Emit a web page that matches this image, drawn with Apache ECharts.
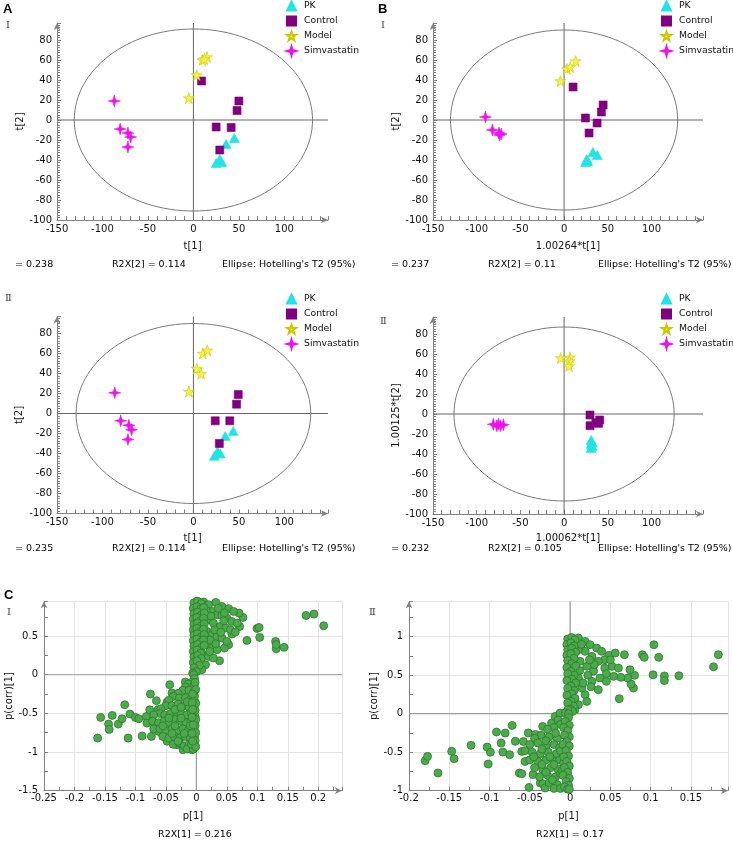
<!DOCTYPE html>
<html><head><meta charset="utf-8">
<script src="https://cdn.jsdelivr.net/npm/echarts@6/dist/echarts.min.js"></script>
<style>html,body{margin:0;padding:0;background:#fff}#c{width:733px;height:842px}</style>
</head><body><div id="c"></div>
<script>
// ---------------- DATA ----------------
const groups = ['PK', 'Control', 'Model', 'Simvastatin'];

// Panel A-I  (t[1], t[2])
const A1_PK = [[45,-18],[36,-24],[29,-39],[31,-42],[25,-43]];
const A1_Control = [[9,39],[50,19],[48,9.5],[25,-7],[41.5,-7.5],[29,-30]];
const A1_Model = [[-5,22],[3.6,45],[10,60],[15,63],[12,61]];
const A1_Simva = [[-87,19],[-80.5,-9],[-72,-13],[-69,-17],[-72,-27]];
const A1_ellipse = [131, 91];

// Panel B-I
const B1_PK = [[26,-39],[24.5,-42],[33,-32],[38,-35],[27,-41]];
const B1_Control = [[10.3,33],[44.7,15],[42.7,8],[24.4,2],[37.8,-3],[28.6,-13]];
const B1_Model = [[-4.2,39],[3.4,51],[7.2,53],[13.3,59]];
const B1_Simva = [[-90,3],[-82,-10],[-74.5,-13],[-72,-14],[-74,-15]];
const B1_ellipse = [130, 90];

// Panel A-II
const A2_PK = [[43.8,-17.4],[35,-22.4],[26.7,-37.7],[29.6,-40],[23,-42.3]];
const A2_Control = [[49.3,19],[47.5,9.3],[24,-7.3],[40,-7.3],[28.5,-30]];
const A2_Model = [[-5,22],[3.7,45],[8.4,39.7],[10.3,60],[15.3,63.3]];
const A2_Simva = [[-86.5,20.7],[-80,-7.3],[-71,-11.7],[-68,-16.3],[-72,-26]];
const A2_ellipse = [129, 90];

// Panel B-II
const B2_PK = [[31,-26],[32,-28],[31,-30],[32,-32],[31,-34]];
const B2_Control = [[29.7,-1],[29.7,-11.7],[40.8,-6],[39.5,-9.3],[36.4,-8.7]];
const B2_Model = [[-3.9,56],[6.8,56.7],[6.1,53],[5.7,48]];
const B2_Simva = [[-81,-10.3],[-77,-11.7],[-72.7,-11.7],[-69.5,-10.7],[-75,-10.3]];
const B2_ellipse = [126, 87];

// Panel C-I  (p[1], p(corr)[1])
const C1_points = [
  // upper-right outliers
  [0.180,0.767],[0.193,0.785],[0.209,0.634],[0.130,0.431],[0.131,0.336],[0.144,0.354],[0.131,0.39],
  [0.0995,0.599],[0.103,0.612],[0.104,0.483],[0.083,0.444],[0.071,0.625],[0.0765,0.741],[0.070,0.798],
  [0.0585,0.527],[0.053,0.388],[0.038,0.181],[0.046,0.345],[0.032,0.935],[0.042,0.884],[0.053,0.854],[0.061,0.819],
  // upper fan
  [0.001,0.95],[0.012,0.94],[0.020,0.906],[0.026,0.819],[0.034,0.776],[0.042,0.768],[0.050,0.733],[0.058,0.690],
  [0.067,0.668],[0.020,0.711],[0.028,0.668],[0.039,0.625],[0.048,0.604],[0.056,0.582],[0.064,0.552],[0.017,0.561],
  [0.026,0.517],[0.034,0.496],[0.042,0.474],[0.050,0.431],[0.017,0.388],[0.026,0.345],[0.034,0.323],[0.012,0.259],
  [0.020,0.237],[0.028,0.216],[0.007,0.151],[0.015,0.129],[0.009,0.065],[0.022,0.45],[0.030,0.58],[0.045,0.7],
  [0.016,0.83],[0.024,0.76],[0.036,0.86],[0.046,0.8],[0.040,0.55],[0.022,0.30],[0.032,0.40],
  // upper dense strip
  [-0.004,0.93],[0.002,0.95],[0.008,0.92],[-0.005,0.86],[0.001,0.88],[0.007,0.85],[0.012,0.87],[-0.004,0.79],
  [0.002,0.81],[0.008,0.77],[0.013,0.8],[-0.005,0.72],[0.001,0.74],[0.007,0.7],[0.012,0.73],[-0.004,0.65],
  [0.002,0.67],[0.008,0.63],[0.013,0.66],[-0.005,0.58],[0.001,0.6],[0.007,0.56],[0.012,0.59],[-0.004,0.51],
  [0.002,0.53],[0.008,0.49],[0.013,0.52],[-0.005,0.44],[0.001,0.46],[0.007,0.42],[0.012,0.45],[-0.004,0.37],
  [0.002,0.39],[0.008,0.35],[0.013,0.38],[-0.005,0.3],[0.001,0.32],[0.007,0.28],[-0.004,0.23],[0.002,0.25],
  [0.008,0.21],[-0.005,0.16],[0.001,0.18],[0.005,0.12],[-0.004,0.09],[0.0,0.04],[-0.006,0.02],
  // lower-left outliers
  [-0.162,-0.819],[-0.157,-0.552],[-0.144,-0.638],[-0.143,-0.707],[-0.138,-0.526],[-0.128,-0.638],[-0.122,-0.569],
  [-0.1175,-0.388],[-0.112,-0.819],[-0.109,-0.509],[-0.100,-0.552],[-0.0945,-0.569],[-0.089,-0.793],[-0.082,-0.539],
  [-0.081,-0.625],[-0.0754,-0.25],[-0.0765,-0.453],[-0.0656,-0.336],[-0.063,-0.453],[-0.0738,-0.798],[-0.062,-0.733],
  [-0.067,-0.625],[-0.0437,-0.129],[-0.048,-0.354],[-0.040,-0.237],[-0.048,-0.86],[-0.0317,-0.905],[-0.0218,-0.97],
  [-0.007,-0.97],[-0.018,-0.095],[-0.0044,0.0],
  // lower cloud
  [-0.003,-0.05],[-0.008,-0.1],[-0.013,-0.12],[-0.004,-0.14],[-0.018,-0.16],[-0.022,-0.2],[-0.012,-0.2],[-0.004,-0.22],
  [-0.03,-0.24],[-0.038,-0.28],[-0.028,-0.3],[-0.018,-0.3],[-0.008,-0.3],[-0.045,-0.33],[-0.003,-0.34],[-0.05,-0.4],
  [-0.04,-0.4],[-0.03,-0.38],[-0.02,-0.4],[-0.012,-0.42],[-0.004,-0.42],[-0.058,-0.44],[-0.06,-0.5],[-0.052,-0.52],
  [-0.042,-0.5],[-0.033,-0.48],[-0.025,-0.5],[-0.016,-0.52],[-0.008,-0.5],[-0.002,-0.54],[-0.07,-0.52],[-0.072,-0.6],
  [-0.062,-0.62],[-0.053,-0.6],[-0.044,-0.62],[-0.035,-0.58],[-0.026,-0.6],[-0.017,-0.62],[-0.009,-0.6],[-0.003,-0.62],
  [-0.07,-0.7],[-0.06,-0.7],[-0.05,-0.72],[-0.04,-0.7],[-0.031,-0.72],[-0.022,-0.7],[-0.013,-0.72],[-0.005,-0.7],
  [-0.055,-0.8],[-0.045,-0.82],[-0.036,-0.8],[-0.027,-0.82],[-0.018,-0.8],[-0.01,-0.82],[-0.003,-0.8],[-0.038,-0.9],
  [-0.028,-0.88],[-0.02,-0.92],[-0.012,-0.9],[-0.004,-0.9],[-0.015,-0.96],[-0.005,-0.96],
  [-0.035,-0.45],[-0.025,-0.56],[-0.045,-0.56],[-0.055,-0.66],[-0.035,-0.66],[-0.02,-0.76],[-0.04,-0.76],
  [-0.03,-0.86],[-0.015,-0.35],[-0.025,-0.42],[-0.01,-0.66],[-0.008,-0.9],
  // lower dense strip
  [-0.002,-0.1],[-0.001,-0.19],[-0.003,-0.28],[-0.001,-0.37],[-0.002,-0.46],[-0.001,-0.58],[-0.002,-0.66],[-0.001,-0.75],
  [-0.002,-0.85],[-0.001,-0.93],[-0.006,-0.25],[-0.007,-0.36],[-0.006,-0.45],[-0.007,-0.55],[-0.005,-0.65],[-0.007,-0.76],[-0.006,-0.86]
];

// Panel C-II
const C2_points = [
  // upper-right outliers
  [0.184,0.766],[0.178,0.61],[0.135,0.493],[0.117,0.49],[0.117,0.43],[0.104,0.896],[0.110,0.732],[0.103,0.506],
  [0.0897,0.766],[0.092,0.732],[0.08,0.498],[0.0786,0.333],[0.0744,0.571],[0.0757,0.385],[0.061,0.195],[0.0674,0.766],
  [0.0716,0.463],[0.063,0.472],
  // upper fan
  [0.0103,0.983],[0.0186,0.939],[0.0248,0.896],[0.033,0.853],[0.039,0.81],[0.048,0.758],[0.056,0.788],[0.043,0.701],
  [0.052,0.615],[0.043,0.593],[0.035,0.68],[0.027,0.745],[0.0186,0.81],[0.0103,0.831],[0.0124,0.68],[0.0207,0.615],
  [0.029,0.55],[0.037,0.463],[0.045,0.42],[0.054,0.485],[0.06,0.593],[0.035,0.312],[0.027,0.42],[0.0186,0.247],
  [0.0207,0.16],[0.0103,0.117],[0.006,0.052],[0.0145,0.333],[0.0103,0.463],[0.012,0.56],[0.022,0.5],[0.03,0.64],
  [0.014,0.9],[0.024,0.7],[0.016,0.4],[0.026,0.35],[0.045,0.52],[0.05,0.7],
  // upper dense strip
  [-0.003,0.97],[0.002,0.99],[0.006,0.96],[-0.004,0.9],[0.001,0.92],[0.005,0.88],[-0.003,0.83],[0.002,0.85],
  [0.007,0.8],[-0.004,0.76],[0.001,0.78],[0.005,0.72],[-0.003,0.69],[0.002,0.65],[0.007,0.62],[-0.004,0.6],
  [0.001,0.55],[0.005,0.5],[-0.003,0.52],[0.002,0.45],[0.007,0.4],[-0.004,0.43],[0.001,0.36],[0.005,0.3],
  [-0.003,0.33],[0.002,0.26],[0.006,0.2],[-0.004,0.24],[0.001,0.16],[0.004,0.1],[-0.003,0.14],[0.0,0.06],
  [0.003,0.03],[-0.003,0.05],
  // lower-left outliers
  [-0.18,-0.61],[-0.177,-0.554],[-0.164,-0.77],[-0.147,-0.489],[-0.144,-0.584],[-0.123,-0.411],[-0.103,-0.433],
  [-0.099,-0.5],[-0.1017,-0.653],[-0.0914,-0.238],[-0.0856,-0.381],[-0.0806,-0.251],[-0.0835,-0.498],[-0.072,-0.152],
  [-0.075,-0.532],[-0.068,-0.359],[-0.063,-0.77],[-0.06,-0.78],[-0.058,-0.36],[-0.06,-0.49],[-0.056,-0.62],
  [-0.051,-0.957],[-0.046,-0.79],[-0.052,-0.25],[-0.043,-0.27],[-0.037,-0.9],[-0.034,-0.91],[-0.034,-0.165],
  [-0.031,-0.965],[-0.023,-0.121],[-0.0186,-0.035],[-0.0124,0.009],[-0.006,0.01],[-0.002,0.0],
  // lower cloud
  [-0.015,-0.08],[-0.012,-0.14],[-0.02,-0.18],[-0.028,-0.2],[-0.036,-0.28],[-0.026,-0.3],[-0.016,-0.32],[-0.044,-0.32],
  [-0.05,-0.4],[-0.04,-0.38],[-0.03,-0.42],[-0.02,-0.4],[-0.013,-0.44],[-0.056,-0.48],[-0.047,-0.5],[-0.037,-0.52],
  [-0.027,-0.5],[-0.017,-0.52],[-0.012,-0.48],[-0.05,-0.6],[-0.04,-0.62],[-0.03,-0.6],[-0.02,-0.62],[-0.013,-0.6],
  [-0.044,-0.7],[-0.034,-0.72],[-0.024,-0.7],[-0.015,-0.72],[-0.038,-0.82],[-0.028,-0.8],[-0.018,-0.82],[-0.012,-0.78],
  [-0.026,-0.9],[-0.016,-0.92],[-0.02,-0.97],[-0.012,-0.97],
  [-0.035,-0.46],[-0.045,-0.56],[-0.025,-0.56],[-0.035,-0.66],[-0.02,-0.66],[-0.03,-0.76],[-0.022,-0.86],
  [-0.03,-0.35],[-0.018,-0.25],[-0.008,-0.64],[-0.01,-0.74],
  // lower dense strip
  [-0.002,-0.05],[-0.006,-0.1],[-0.001,-0.15],[-0.008,-0.18],[-0.003,-0.22],[-0.001,-0.3],[-0.007,-0.28],[-0.004,-0.36],
  [-0.009,-0.4],[-0.001,-0.42],[-0.005,-0.48],[-0.002,-0.55],[-0.008,-0.56],[-0.004,-0.62],[-0.001,-0.68],[-0.007,-0.7],
  [-0.003,-0.76],[-0.009,-0.8],[-0.001,-0.84],[-0.005,-0.88],[-0.002,-0.93],[-0.007,-0.95],[-0.003,-0.98],[-0.001,-0.98]
];

// Texts
const panelLetters = ['A', 'B', 'C'];
const footers = [
  ['= 0.238', 'R2X[2] = 0.114', "Ellipse: Hotelling's T2 (95%)"],
  ['= 0.237', 'R2X[2] = 0.11', "Ellipse: Hotelling's T2 (95%)"],
  ['= 0.235', 'R2X[2] = 0.114', "Ellipse: Hotelling's T2 (95%)"],
  ['= 0.232', 'R2X[2] = 0.105', "Ellipse: Hotelling's T2 (95%)"]
];
const cFooters = ['R2X[1] = 0.216', 'R2X[1] = 0.17'];
const xNames = ['t[1]', '1.00264*t[1]', 't[1]', '1.00062*t[1]', 'p[1]', 'p[1]'];
const yNames = ['t[2]', 't[2]', 't[2]', '1.00125*t[2]', 'p(corr)[1]', 'p(corr)[1]'];
const abXLabelMax = 100;

// ---------------- STYLE / LAYOUT ----------------
const FONT = '"DejaVu Sans", Verdana, sans-serif';
const AX = '#808080';
const star5 = 'path://M50 2 L61.8 38.2 L97.6 38.2 L68.8 59.5 L79.4 95 L50 73 L20.6 95 L31.2 59.5 L2.4 38.2 L38.2 38.2 Z';
const star4 = 'path://M50 0 L61 39 L100 50 L61 61 L50 100 L39 61 L0 50 L39 39 Z';
const groupStyle = {
  PK: {symbol: 'triangle', symbolSize: [10, 9], color: '#22e4e4', border: '#22e4e4'},
  Control: {symbol: 'rect', symbolSize: 8, color: '#800080', border: '#800080'},
  Model: {symbol: star5, symbolSize: 11, color: '#f2f24a', border: '#c9c900'},
  Simvastatin: {symbol: star4, symbolSize: 12, color: '#ee11ee', border: '#ee11ee'}
};

const grids = [
  {left: 57, top: 23, width: 271, height: 197},
  {left: 433, top: 23, width: 270, height: 197},
  {left: 57, top: 316.5, width: 271, height: 197},
  {left: 433, top: 317, width: 270, height: 197},
  {left: 44, top: 601.3, width: 298, height: 189.4},
  {left: 409, top: 601.3, width: 319, height: 189.4}
];

function fmt(v) { return String(+(+v).toFixed(4)); }

function baseAxis(gi, name, nameGap) {
  return {
    type: 'value', gridIndex: gi, name: name, nameLocation: 'middle', nameGap: nameGap,
    nameTextStyle: {fontSize: 10, color: '#111', fontFamily: FONT},
    axisLine: {show: true, onZero: false, lineStyle: {color: AX, width: 1}, symbol: ['none', 'arrow'], symbolSize: [5, 7]},
    axisTick: {show: true, inside: true, length: 4, lineStyle: {color: AX}},
    axisLabel: {fontSize: 10, color: '#111', fontFamily: FONT},
    splitLine: {show: false}
  };
}

const xAxes = [], yAxes = [];
const abXMax = [148, 159, 148, 159];
const xGap = [21, 21, 20, 19];
const yGap = [29, 31, 33, 31];
for (let i = 0; i < 4; i++) {
  const xa = baseAxis(i, xNames[i], xGap[i]);
  Object.assign(xa, {min: -150, max: abXMax[i], interval: 50,
    minorTick: {show: true, splitNumber: 5, length: 4, lineStyle: {color: AX}}});
  xa.axisLabel.margin = 4;
  xa.axisLabel.formatter = v => (Math.abs(v % 50) < 1e-9 && v <= abXLabelMax ? fmt(v) : '');
  xAxes.push(xa);
  const ya = baseAxis(i, yNames[i], yGap[i]);
  Object.assign(ya, {min: -100, max: 97, interval: 20,
    minorTick: {show: true, splitNumber: 8, length: 3, lineStyle: {color: AX}}});
  ya.axisLabel.margin = 5;
  ya.axisLabel.formatter = v => (Math.abs(v % 20) < 1e-9 ? fmt(v) : '');
  yAxes.push(ya);
}
// C panels
const cX = [{min: -0.25, max: 0.239}, {min: -0.2, max: 0.196}];
const cY = [{min: -1.5, max: 0.95}, {min: -1, max: 1.46}];
for (let k = 0; k < 2; k++) {
  const gi = 4 + k;
  const xa = baseAxis(gi, xNames[gi], 21);
  Object.assign(xa, {min: cX[k].min, max: cX[k].max, interval: 0.05,
    minorTick: {show: true, splitNumber: 2, length: 4, lineStyle: {color: AX}},
    splitLine: {show: true, lineStyle: {color: '#e3e3e3', width: 1}}});
  xa.axisLabel.margin = 3;
  xa.axisLabel.formatter = v => (Math.abs(v / 0.05 - Math.round(v / 0.05)) < 1e-6 ? fmt(v) : '');
  xAxes.push(xa);
  const ya = baseAxis(gi, yNames[gi], 29);
  Object.assign(ya, {min: cY[k].min, max: cY[k].max, interval: 0.5,
    minorTick: {show: true, splitNumber: 2, length: 4, lineStyle: {color: AX}},
    splitLine: {show: true, lineStyle: {color: '#e3e3e3', width: 1}}});
  ya.axisLabel.margin = 6;
  ya.axisLabel.formatter = v => (Math.abs(v / 0.5 - Math.round(v / 0.5)) < 1e-6 ? fmt(v) : '');
  yAxes.push(ya);
}

// ---------------- SERIES ----------------
function ellipseRender(params, api) {
  const cs = params.coordSys;
  const c = api.coord([api.value(0), api.value(1)]);
  const e = api.coord([api.value(0) + api.value(2), api.value(1) + api.value(3)]);
  const rx = Math.abs(e[0] - c[0]), ry = Math.abs(e[1] - c[1]);
  return {type: 'group', children: [
    {type: 'line', shape: {x1: c[0], y1: cs.y, x2: c[0], y2: cs.y + cs.height}, style: {stroke: '#666', lineWidth: 1}},
    {type: 'line', shape: {x1: cs.x, y1: c[1], x2: cs.x + cs.width, y2: c[1]}, style: {stroke: '#666', lineWidth: 1}},
    {type: 'ellipse', shape: {cx: c[0], cy: c[1], rx: rx, ry: ry}, style: {fill: 'none', stroke: '#7a7a7a', lineWidth: 1}}
  ]};
}
function zeroRender(params, api) {
  const cs = params.coordSys;
  const c = api.coord([0, 0]);
  return {type: 'group', children: [
    {type: 'line', shape: {x1: c[0], y1: cs.y, x2: c[0], y2: cs.y + cs.height}, style: {stroke: '#9a9a9a', lineWidth: 1.2}},
    {type: 'line', shape: {x1: cs.x, y1: c[1], x2: cs.x + cs.width, y2: c[1]}, style: {stroke: '#9a9a9a', lineWidth: 1.2}}
  ]};
}

const panelData = [
  [A1_PK, A1_Control, A1_Model, A1_Simva, A1_ellipse],
  [B1_PK, B1_Control, B1_Model, B1_Simva, B1_ellipse],
  [A2_PK, A2_Control, A2_Model, A2_Simva, A2_ellipse],
  [B2_PK, B2_Control, B2_Model, B2_Simva, B2_ellipse]
];
const series = [];
panelData.forEach((pd, i) => {
  series.push({type: 'custom', xAxisIndex: i, yAxisIndex: i, silent: true, z: 1,
    renderItem: ellipseRender, data: [[0, 0, pd[4][0], pd[4][1]]], animation: false});
  groups.forEach((g, j) => {
    const st = groupStyle[g];
    series.push({type: 'scatter', name: g, xAxisIndex: i, yAxisIndex: i, z: 3,
      symbol: st.symbol, symbolSize: st.symbolSize,
      itemStyle: {color: st.color, borderColor: st.border, borderWidth: 0.6, opacity: 1},
      data: pd[j], animation: false});
  });
});
[C1_points, C2_points].forEach((pts, k) => {
  const gi = 4 + k;
  series.push({type: 'custom', xAxisIndex: gi, yAxisIndex: gi, silent: true, z: 1,
    renderItem: zeroRender, data: [[0, 0]], animation: false});
  series.push({type: 'scatter', name: 'loadings' + k, xAxisIndex: gi, yAxisIndex: gi, z: 3,
    symbol: 'circle', symbolSize: 8,
    itemStyle: {color: '#4caa4c', borderColor: '#2d7a2d', borderWidth: 0.8, opacity: 1},
    data: pts, animation: false, large: false});
});

// ---------------- LEGENDS ----------------
const legendIcons = {PK: 'triangle', Control: 'rect', Model: star5, Simvastatin: star4};
const legendPos = [[286, 0.5], [661, 0.5], [286, 293.5], [661, 293.5]];
const legends = legendPos.map(p => ({
  orient: 'vertical', left: p[0], top: p[1], padding: 0, itemGap: 4,
  itemWidth: 9, itemHeight: 9, selectedMode: false,
  textStyle: {fontSize: 9.3, color: '#111', fontFamily: FONT, padding: [0, 0, 0, 3], lineHeight: 11},
  data: groups.map(g => ({name: g, icon: legendIcons[g]}))
}));

// ---------------- GRAPHIC TEXTS ----------------
const graphic = [];
const letterPos = [[3, 3], [378, 3], [4, 589]];
panelLetters.forEach((t, i) => graphic.push({type: 'text', x: letterPos[i][0], y: letterPos[i][1],
  style: {text: t, font: 'bold 13px "Liberation Sans", Arial, sans-serif', fill: '#000'}}));
const romans = [['Ⅰ', 6, 25], ['Ⅰ', 381, 25], ['Ⅱ', 5, 298], ['Ⅱ', 380, 321], ['Ⅰ', 7, 612], ['Ⅱ', 369, 612]];
romans.forEach(r => graphic.push({type: 'text', x: r[1], y: r[2],
  style: {text: r[0], font: '10px "DejaVu Serif", "Liberation Serif", serif', fill: '#444', verticalAlign: 'middle'}}));
const footX = [[15, 112, 222], [391, 488, 598], [15, 112, 222], [391, 488, 598]];
const footY = [265, 265, 549, 549];
footers.forEach((f, i) => f.forEach((t, j) => graphic.push({type: 'text', x: footX[i][j], y: footY[i],
  style: {text: t, font: '9.5px ' + FONT, fill: '#000', verticalAlign: 'middle'}})));
const cFootX = [195, 570];
cFooters.forEach((t, i) => graphic.push({type: 'text', x: cFootX[i], y: 835,
  style: {text: t, font: '9.5px ' + FONT, fill: '#000', align: 'center', verticalAlign: 'middle'}}));

// ---------------- CHART ----------------
const chart = echarts.init(document.getElementById('c'), null, {renderer: 'canvas'});
chart.setOption({
  backgroundColor: '#fff',
  animation: false,
  textStyle: {fontFamily: FONT},
  grid: grids,
  xAxis: xAxes,
  yAxis: yAxes,
  legend: legends,
  graphic: graphic,
  series: series
});
</script></body></html>
